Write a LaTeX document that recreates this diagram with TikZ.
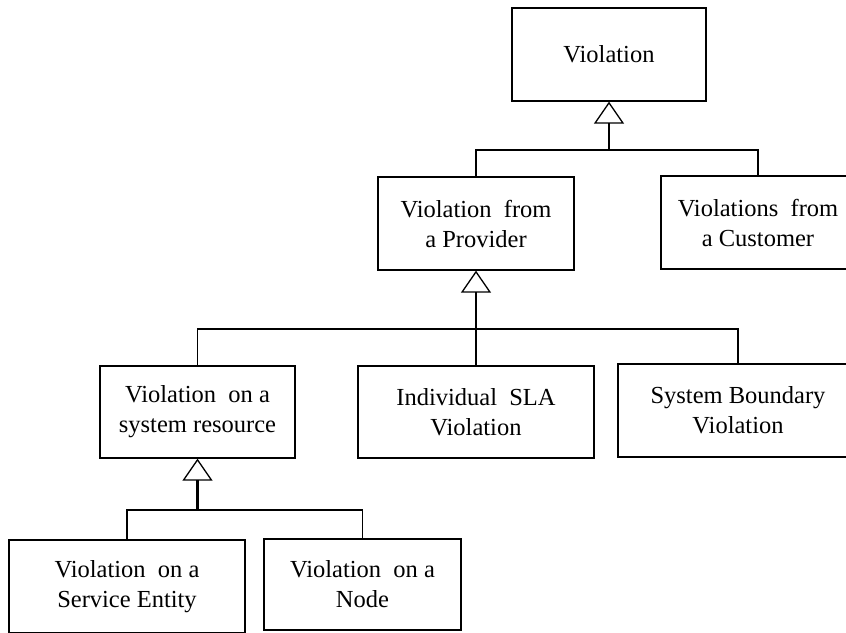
\documentclass[tikz,border=0pt]{standalone}
\usepackage{fontspec}
\setmainfont{Liberation Serif}
\usetikzlibrary{arrows.meta}

\begin{document}
\begin{tikzpicture}[x=1pt, y=-1pt, line width=1.3pt, line join=miter,
  cls/.style={draw, align=center, inner sep=0pt, font=\fontsize{24.5}{30}\selectfont},
  isa/.style={line width=2.2pt, -{Triangle[open, length=22pt, width=30pt, line width=1.3pt]}}]

  %% ════ classes ════
  \node[cls, minimum width=194pt, minimum height=93pt] (viol) at (609,54.5) {Violation};
  \node[cls, minimum width=196pt, minimum height=93pt] (prov) at (476,223.5) {Violation\ \ from\\a Provider};
  \node[cls, minimum width=194pt, minimum height=93pt] (cust) at (758,222.5) {Violations\ \ from\\a Customer};
  \node[cls, minimum width=195pt, minimum height=92pt] (sysres) at (197.5,412) {Violation\ \ on a\\system resource};
  \node[cls, minimum width=236pt, minimum height=92pt] (sla) at (476,412) {Individual\ \ SLA\\Violation};
  \node[cls, minimum width=240pt, minimum height=93pt] (bound) at (738,410.5) {System Boundary\\Violation};
  \node[cls, minimum width=236pt, minimum height=93pt] (entity) at (127,586.5) {Violation\ \ on a\\Service Entity};
  \node[cls, minimum width=197pt, minimum height=91pt] (nodebox) at (362.5,584.5) {Violation\ \ on a\\Node};

  %% ════ generalisation ════
  \coordinate (j1) at (609,150);
  \draw (prov.north) |- (j1) -| (cust.north);
  \draw[isa, line width=1.5pt] (j1) -- (viol.south);

  \coordinate (j2) at (476,329);
  \draw (sysres.north) |- (j2) -| (bound.north);
  \draw (sla.north) -- (j2);
  \draw[isa] (j2) -- (prov.south);

  \coordinate (j3) at (197.5,510);
  \draw (entity.north) |- (j3) -| (nodebox.north);
  \draw[isa] (j3) -- (sysres.south);

  % canvas
  \pgfresetboundingbox
  \path[use as bounding box] (0,0) rectangle (846,632);
\end{tikzpicture}
\end{document}
